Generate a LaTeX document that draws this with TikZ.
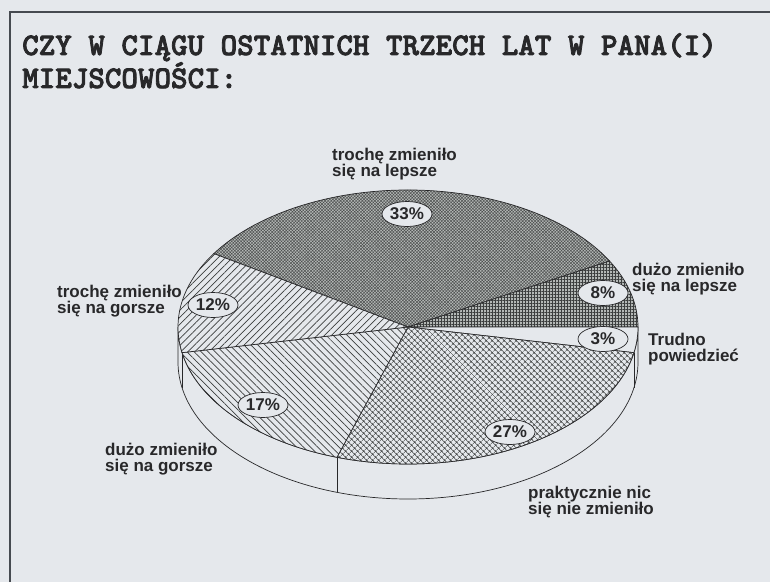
\documentclass[tikz,border=0pt]{standalone}
\usepackage{fontspec}
\setmainfont{Liberation Sans}
\newfontfamily\titlefont[FakeBold=2.5]{lmmonolt10-bold.otf}
\usetikzlibrary{patterns.meta,shapes.geometric}
\definecolor{bg}{RGB}{229,232,236}
\definecolor{ink}{RGB}{40,40,42}
\definecolor{framec}{RGB}{70,74,80}
\definecolor{dk}{RGB}{60,62,62}
\definecolor{dkb}{RGB}{78,80,80}
\definecolor{midg}{RGB}{182,186,184}
\definecolor{midh}{RGB}{180,184,182}
\begin{document}
\begin{tikzpicture}[x=1pt,y=1pt,
  rimline/.style={draw=ink, line width=0.7pt},
  pct/.style={ellipse, draw=ink, line width=0.7pt, fill=bg, minimum width=50pt, minimum height=25pt, inner sep=0pt, text=ink, font=\fontsize{17}{17}\selectfont\bfseries},
  lbl/.style={align=left, anchor=north west, inner sep=0pt, text=ink, font=\fontsize{17}{16}\selectfont\bfseries},
  ttl/.style={align=left, anchor=north west, inner sep=0pt, text=ink, font=\titlefont\fontsize{31.5}{33}\selectfont}
]
\fill[bg] (0,0) rectangle (770,582);
\useasboundingbox (0,0) rectangle (770,582);
\draw[framec, line width=2pt] (10,0) -- (10,570) -- (770,570);

\node[ttl] (title) at (22,549) {CZY W CIĄGU OSTATNICH TRZECH LAT W PANA(I)\\MIEJSCOWOŚCI:};

\coordinate (C) at (408,255);

% side of the pie
\path[rimline, fill=bg] (C) ++(180:230 and 137) arc[start angle=180,end angle=360,x radius=230,y radius=137] -- ++(0,-35) arc[start angle=360,end angle=180,x radius=230,y radius=137] -- cycle;
\draw[rimline] (C) ++(190.8:230 and 137) -- ++(0,-35);
\draw[rimline] (C) ++(252:230 and 137) -- ++(0,-35);
\draw[rimline] (C) ++(349.2:230 and 137) -- ++(0,-35);

% slices
\draw[rimline, preaction={fill=midg}, pattern={Hatch[angle=45,distance=2.2pt,line width=0.5pt]}, pattern color=dkb]
  (C) -- ++(28.8:230 and 137) arc[start angle=28.8,end angle=147.6,x radius=230,y radius=137] -- cycle;
\draw[rimline, preaction={fill=midh}, pattern={Hatch[angle=0,distance=3pt,line width=0.7pt]}, pattern color=dk]
  (C) -- ++(0:230 and 137) arc[start angle=0,end angle=28.8,x radius=230,y radius=137] -- cycle;
\draw[rimline, fill=bg]
  (C) -- ++(349.2:230 and 137) arc[start angle=349.2,end angle=360,x radius=230,y radius=137] -- cycle;
\draw[rimline, preaction={fill=bg}, pattern={Hatch[angle=45,distance=4pt,line width=0.6pt]}, pattern color=dk]
  (C) -- ++(252:230 and 137) arc[start angle=252,end angle=349.2,x radius=230,y radius=137] -- cycle;
\draw[rimline, preaction={fill=bg}, pattern={Lines[angle=-45,distance=5pt,line width=0.7pt]}, pattern color=dk]
  (C) -- ++(190.8:230 and 137) arc[start angle=190.8,end angle=252,x radius=230,y radius=137] -- cycle;
\draw[rimline, preaction={fill=bg}, pattern={Lines[angle=45,distance=5pt,line width=0.7pt]}, pattern color=dk]
  (C) -- ++(147.6:230 and 137) arc[start angle=147.6,end angle=190.8,x radius=230,y radius=137] -- cycle;

% percentages
\node[pct] (p33) at (407,368) {33\%};
\node[pct] (p8)  at (603,289) {8\%};
\node[pct] (p3)  at (603,243) {3\%};
\node[pct] (p12) at (213,277) {12\%};
\node[pct] (p17) at (263,177) {17\%};
\node[pct] (p27) at (510,150) {27\%};

% labels
\node[lbl] (l33) at (332,434) {trochę zmieniło\\się na lepsze};
\node[lbl] (l8)  at (632,319) {dużo zmieniło\\się na lepsze};
\node[lbl] (l3)  at (648,249) {Trudno\\powiedzieć};
\node[lbl] (l12) at (57,297)  {trochę zmieniło\\się na gorsze};
\node[lbl] (l17) at (105,139) {dużo zmieniło\\się na gorsze};
\node[lbl] (l27) at (528,96)  {praktycznie nic\\się nie zmieniło};
\end{tikzpicture}
\end{document}
